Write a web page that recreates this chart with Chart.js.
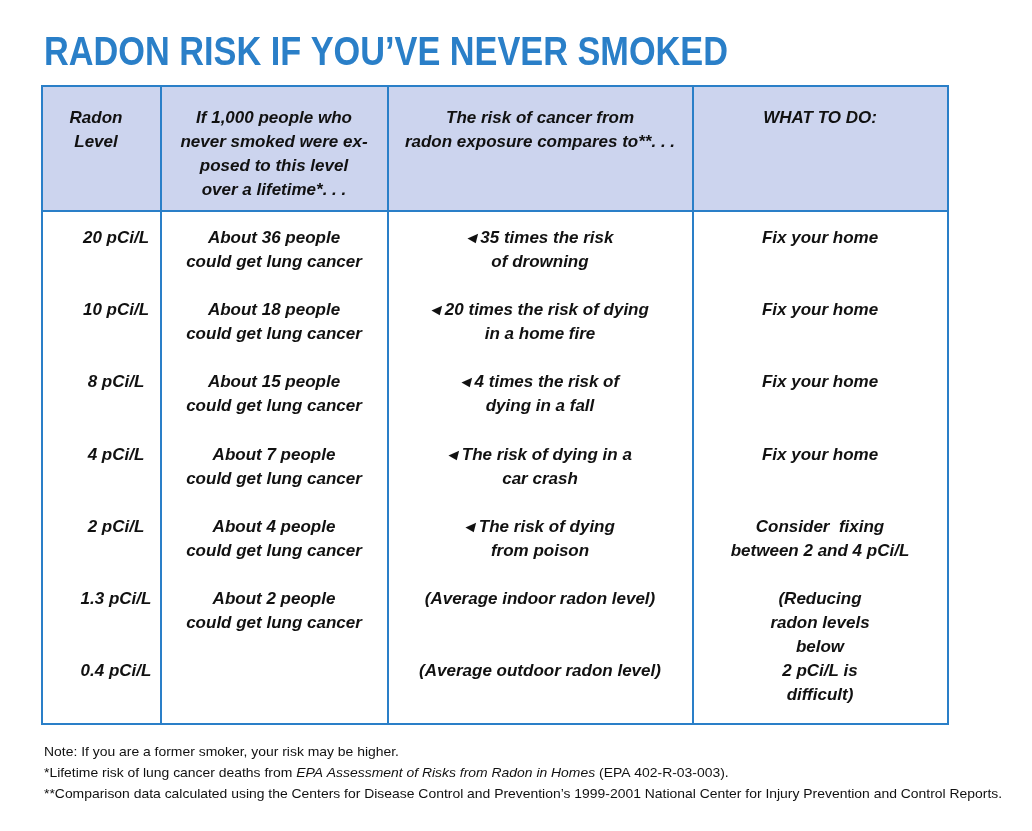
<!DOCTYPE html>
<html>
<head>
<meta charset="utf-8">
<script src="https://cdn.jsdelivr.net/npm/chart.js@4"></script>
<style>
  html, body { margin: 0; padding: 0; background: #ffffff; }
  #wrap { width: 1032px; height: 831px; position: relative; }
</style>
</head>
<body>
<div id="wrap"><canvas id="radonTable"></canvas></div>
<script>
// Table content
const titleText = 'RADON RISK IF YOU\u2019VE NEVER SMOKED';
const headers = [
  ['Radon', 'Level'],
  ['If 1,000 people who', 'never smoked were ex-', 'posed to this level', 'over a lifetime*. . .'],
  ['The risk of cancer from', 'radon exposure compares to**. . .'],
  ['WHAT TO DO:']
];
const radonLevels = ['20 pCi/L', '10 pCi/L', '8 pCi/L', '4 pCi/L', '2 pCi/L', '1.3 pCi/L', '0.4 pCi/L'];
const peopleAffected = [
  ['About 36 people', 'could get lung cancer'],
  ['About 18 people', 'could get lung cancer'],
  ['About 15 people', 'could get lung cancer'],
  ['About 7 people', 'could get lung cancer'],
  ['About 4 people', 'could get lung cancer'],
  ['About 2 people', 'could get lung cancer'],
  []
];
const riskCompare = [
  ['\u25C2 35 times the risk', 'of drowning'],
  ['\u25C2 20 times the risk of dying', 'in a home fire'],
  ['\u25C2 4 times the risk of', 'dying in a fall'],
  ['\u25C2 The risk of dying in a', 'car crash'],
  ['\u25C2 The risk of dying', 'from poison'],
  ['(Average indoor radon level)'],
  ['(Average outdoor radon level)']
];
const whatToDo = [
  ['Fix your home'],
  ['Fix your home'],
  ['Fix your home'],
  ['Fix your home'],
  ['Consider  fixing', 'between 2 and 4 pCi/L'],
  ['(Reducing', 'radon levels', 'below', '2 pCi/L is', 'difficult)'],
  []
];
const columns = [radonLevels.map(v => [v]), peopleAffected, riskCompare, whatToDo];
const notes = [
  [['Note: If you are a former smoker, your risk may be higher.', false]],
  [['*Lifetime risk of lung cancer deaths from ', false], ['EPA Assessment of Risks from Radon in Homes', true], [' (EPA 402-R-03-003).', false]],
  [['**Comparison data calculated using the Centers for Disease Control and Prevention\u2019s 1999-2001 National Center for Injury Prevention and Control Reports.', false]]
];

// Layout (table units)
const colEdges = [0, 119, 346, 651, 906];
const headCenters = [54, 232, 498, 778];
const bodyCenters = [74, 232, 498, 778];
const headerBottom = 125;
const tableBottom = 638;
const rowStart = 152;
const rowPitch = 72.3;
const linePitch = 24;
const notesScale = 958 / 895;

const blue = '#2a7fc8';
const FONT = '"Liberation Sans", Arial, sans-serif';

const tablePlugin = {
  id: 'tablePlugin',
  afterDraw(chart) {
    const ctx = chart.ctx;
    const x = chart.scales.x, y = chart.scales.y;
    const px = v => x.getPixelForValue(v);
    const py = v => y.getPixelForValue(v);
    ctx.save();

    // title
    ctx.fillStyle = blue;
    ctx.font = 'bold 40px ' + FONT;
    ctx.textBaseline = 'alphabetic';
    ctx.textAlign = 'left';
    ctx.fillText(titleText, 44, 65, 684);

    // header band
    ctx.fillStyle = '#ccd4ee';
    ctx.fillRect(px(0), py(0), px(906) - px(0), py(headerBottom) - py(0));

    // grid
    ctx.strokeStyle = blue;
    ctx.lineWidth = 2;
    ctx.strokeRect(px(0), py(0), px(906) - px(0), py(tableBottom) - py(0));
    ctx.beginPath();
    ctx.moveTo(px(0), py(headerBottom));
    ctx.lineTo(px(906), py(headerBottom));
    colEdges.slice(1, -1).forEach(c => {
      ctx.moveTo(px(c), py(0));
      ctx.lineTo(px(c), py(tableBottom));
    });
    ctx.stroke();

    // header text
    ctx.fillStyle = '#111111';
    ctx.textAlign = 'center';
    ctx.textBaseline = 'middle';
    ctx.font = 'italic bold 17px ' + FONT;
    headers.forEach((lines, ci) => {
      lines.forEach((t, li) => {
        ctx.fillText(t, px(headCenters[ci]), py(32 + li * linePitch), px(colEdges[ci + 1]) - px(colEdges[ci]) - 12);
      });
    });

    // body text
    columns.forEach((col, ci) => {
      col.forEach((lines, ri) => {
        lines.forEach((t, li) => {
          ctx.fillText(t, px(bodyCenters[ci]), py(rowStart + ri * rowPitch + li * linePitch), px(colEdges[ci + 1]) - px(colEdges[ci]) - 12);
        });
      });
    });

    // notes (slightly stretched to the reference width)
    ctx.textAlign = 'left';
    ctx.textBaseline = 'middle';
    notes.forEach((segs, i) => {
      ctx.save();
      ctx.translate(44, 752 + i * 21);
      ctx.scale(notesScale, 1);
      let cx = 0;
      segs.forEach(([t, it]) => {
        ctx.font = (it ? 'italic ' : '') + '13px ' + FONT;
        ctx.fillText(t, cx, 0);
        cx += ctx.measureText(t).width;
      });
      ctx.restore();
    });
    ctx.restore();
  }
};

new Chart(document.getElementById('radonTable'), {
  type: 'scatter',
  data: { datasets: [] },
  options: {
    responsive: true,
    maintainAspectRatio: false,
    animation: false,
    layout: { padding: { left: 42, right: 84, top: 86, bottom: 107 } },
    plugins: { legend: { display: false }, tooltip: { enabled: false } },
    scales: {
      x: { type: 'linear', min: 0, max: 906, display: false },
      y: { type: 'linear', min: 0, max: tableBottom, reverse: true, display: false }
    }
  },
  plugins: [tablePlugin]
});
</script>
</body>
</html>
